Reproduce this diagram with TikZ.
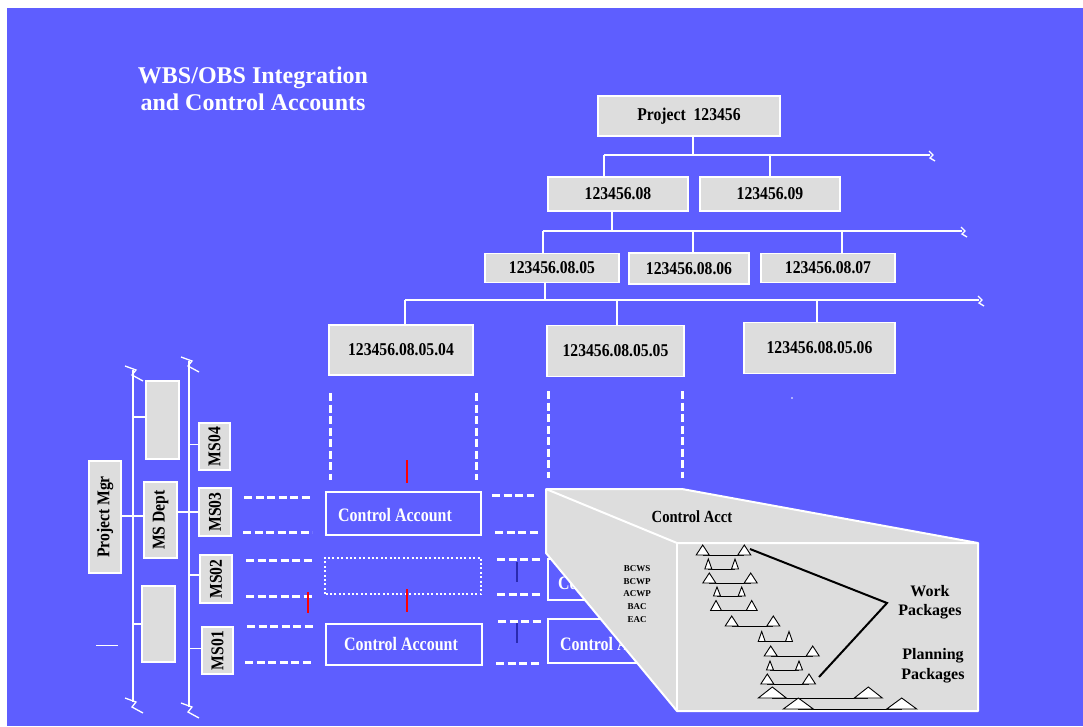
\documentclass[tikz,border=0pt]{standalone}
\usepackage{fontspec}
\setmainfont{Liberation Serif}
\usetikzlibrary{calc}
\definecolor{bg}{HTML}{5E5EFF}
\definecolor{boxgray}{HTML}{DDDDDD}
\definecolor{navy}{HTML}{2A2AB0}
\newcommand{\nar}[1]{\scalebox{0.87}[1]{#1}}
\newcommand{\carr}[1]{\scalebox{0.84}[1]{#1}}
\newcommand{\wrow}[5]{%
  \draw[black, line width=0.9pt] (#1,#3) -- (#2,#3);
  \filldraw[fill=white, draw=black, line width=0.9pt] (#1-#4,#3) -- (#1,#3-#5) -- (#1+#4,#3) -- cycle;
  \filldraw[fill=white, draw=black, line width=0.9pt] (#2-#4,#3) -- (#2,#3-#5) -- (#2+#4,#3) -- cycle;}
\begin{document}
\begin{tikzpicture}[x=1pt,y=-1pt,
  conn/.style={white, line width=1.3pt},
  gbox/.style={draw=white, fill=boxgray, line width=1.5pt, inner sep=0pt,
    font=\bfseries\fontsize{18}{18}\selectfont, text=black},
  cabox/.style={draw=white, line width=1.5pt, inner sep=0pt},
  catext/.style={text=white, font=\bfseries\fontsize{19}{19}\selectfont, inner sep=0pt, anchor=west},
  wdash/.style={white, line width=3pt, dash pattern=on 8pt off 3.5pt},
  wdot/.style={white, line width=2.2pt, dash pattern=on 2pt off 2.4pt},
  redl/.style={red, line width=1.2pt},
  navyl/.style={navy, line width=1.2pt},
  mtx/.style={font=\bfseries\fontsize{9}{9}\selectfont, inner sep=0pt},
  hbrk/.pic={\draw[conn] (-1,-4) -- (3,0) -- (0,3) -- (5,6);},
  vbrk/.pic={\draw[conn] (-8,-4) -- (3,0) -- (-1,5) -- (10,11);}
]
\useasboundingbox (0,0) rectangle (1083,726);
\fill[white] (0,0) rectangle (1083,726);
\fill[bg] (7,8) rectangle (1083,726);

% title
\node[text=white, font=\bfseries\fontsize{24}{27}\selectfont, align=center] (title) at (253,89)
  {WBS/OBS Integration\\and Control Accounts};

% ---------- WBS ----------
\node[gbox, minimum width=182pt, minimum height=40pt] (proj) at (689,116) {\nar{Project~~123456}};
\node[gbox, minimum width=140pt, minimum height=34pt] (w08) at (618,194) {\nar{123456.08}};
\node[gbox, minimum width=140pt, minimum height=34pt] (w09) at (770,194) {\nar{123456.09}};
\node[gbox, minimum width=134pt, minimum height=29pt] (w0805) at (552,268) {\nar{123456.08.05}};
\node[gbox, minimum width=120pt, minimum height=31pt] (w0806) at (689,268.5) {\nar{123456.08.06}};
\node[gbox, minimum width=134pt, minimum height=29pt] (w0807) at (828,268) {\nar{123456.08.07}};
\node[gbox, minimum width=144pt, minimum height=50pt] (w04) at (401,350) {\nar{123456.08.05.04}};
\node[gbox, minimum width=137pt, minimum height=51pt] (w05) at (615.5,351) {\nar{123456.08.05.05}};
\node[gbox, minimum width=151pt, minimum height=51pt] (w06) at (819.5,348) {\nar{123456.08.05.06}};

% bus 1
\coordinate (b1a) at (604,155); \coordinate (b1b) at (930,155);
\coordinate (b1p) at (693,155); \coordinate (b1c) at (770,155);
\draw[conn] (b1a) -- (b1b);
\pic at (b1b) {hbrk};
\draw[conn] (b1p) -- (b1p |- proj.south);
\draw[conn] (b1a) -- (b1a |- w08.north);
\draw[conn] (b1c) -- (b1c |- w09.north);
% bus 2
\coordinate (b2a) at (543,231); \coordinate (b2b) at (962,231);
\coordinate (b2p) at (612,231); \coordinate (b2c) at (693,231); \coordinate (b2d) at (842,231);
\draw[conn] (b2a) -- (b2b);
\pic at (b2b) {hbrk};
\draw[conn] (b2p) -- (b2p |- w08.south);
\draw[conn] (b2a) -- (b2a |- w0805.north);
\draw[conn] (b2c) -- (b2c |- w0806.north);
\draw[conn] (b2d) -- (b2d |- w0807.north);
% bus 3
\coordinate (b3a) at (405,300); \coordinate (b3b) at (979,300);
\coordinate (b3p) at (545,300); \coordinate (b3c) at (617,300); \coordinate (b3d) at (817,300);
\draw[conn] (b3a) -- (b3b);
\pic at (b3b) {hbrk};
\draw[conn] (b3p) -- (b3p |- w0805.south);
\draw[conn] (b3a) -- (b3a |- w04.north);
\draw[conn] (b3c) -- (b3c |- w05.north);
\draw[conn] (b3d) -- (b3d |- w06.north);
\fill[white] (792,398) circle (0.9);

% dashed verticals under WBS level 4
\coordinate (dv1t) at (330,393); \coordinate (dv1b) at (330,480);
\coordinate (dv2t) at (476,393); \coordinate (dv2b) at (476,480);
\coordinate (dv3t) at (548,391); \coordinate (dv3b) at (548,478);
\coordinate (dv4t) at (682,391); \coordinate (dv4b) at (682,478);
\draw[wdash] (dv1t) -- (dv1b);
\draw[wdash] (dv2t) -- (dv2b);
\draw[wdash] (dv3t) -- (dv3b);
\draw[wdash] (dv4t) -- (dv4b);

% ---------- OBS ----------
\coordinate (lbt) at (133,370); \coordinate (lbb) at (133,702);
\coordinate (rbt) at (189,361); \coordinate (rbb) at (189,707);
\draw[conn] (lbt) -- (lbb);
\draw[conn] (rbt) -- (rbb);
\pic at (lbt) {vbrk};
\pic at (lbb) {vbrk};
\pic at (rbt) {vbrk};
\pic at (rbb) {vbrk};

\node[gbox, minimum width=32pt, minimum height=112pt] (pm) at (105,517) {\rotatebox{90}{\nar{Project Mgr}}};
\node[gbox, minimum width=33pt, minimum height=78pt] (blank1) at (162.5,420) {};
\node[gbox, minimum width=33pt, minimum height=76pt] (msd) at (160.5,520) {\rotatebox{90}{\nar{MS Dept}}};
\node[gbox, minimum width=33pt, minimum height=76pt] (blank2) at (158.5,624) {};
\node[gbox, minimum width=31pt, minimum height=47pt] (ms04) at (214.5,446.5) {\rotatebox{90}{\nar{MS04}}};
\node[gbox, minimum width=32pt, minimum height=48pt] (ms03) at (215,512) {\rotatebox{90}{\nar{MS03}}};
\node[gbox, minimum width=32pt, minimum height=48pt] (ms02) at (216,579) {\rotatebox{90}{\nar{MS02}}};
\node[gbox, minimum width=31pt, minimum height=47pt] (ms01) at (217.5,650.5) {\rotatebox{90}{\nar{MS01}}};

\draw[conn] ([yshift=1pt]pm.east) -- ([yshift=1pt]pm.east -| msd.west);
\draw[conn] ([yshift=3pt]blank1.west) -- ([yshift=3pt]blank1.west -| lbt);
\draw[conn] (blank2.west) -- (blank2.west -| lbt);
\draw[conn] (ms03.west) -- (ms03.west -| msd.east);
\draw[conn] ([yshift=2pt]ms04.west) -- ([yshift=2pt]ms04.west -| rbt);
\draw[conn] ([yshift=4pt]ms02.west) -- ([yshift=4pt]ms02.west -| rbt);
\draw[conn] ([yshift=2pt]ms01.west) -- ([yshift=2pt]ms01.west -| rbt);
\coordinate (sl1) at (96,645); \coordinate (sl2) at (118,645);
\draw[white, line width=1pt] (sl1) -- (sl2);

% ---------- control accounts ----------
\coordinate (h1a) at (244,497); \coordinate (h1b) at (312,497);
\coordinate (h2a) at (243,532); \coordinate (h2b) at (312,532);
\coordinate (h3a) at (492,495); \coordinate (h3b) at (534,495);
\coordinate (h4a) at (495,532); \coordinate (h4b) at (538,532);
\coordinate (h5a) at (246,560); \coordinate (h5b) at (314,560);
\coordinate (h6a) at (246,596); \coordinate (h6b) at (314,596);
\coordinate (h7a) at (497,559); \coordinate (h7b) at (540,559);
\coordinate (h8a) at (497,594); \coordinate (h8b) at (540,594);
\coordinate (h9a) at (247,626); \coordinate (h9b) at (315,626);
\coordinate (h10a) at (245,662); \coordinate (h10b) at (313,662);
\coordinate (h11a) at (498,621); \coordinate (h11b) at (541,621);
\coordinate (h12a) at (496,663); \coordinate (h12b) at (540,663);
\foreach \i in {1,...,12} {\draw[wdash] (h\i a) -- (h\i b);}

\node[cabox, minimum width=155pt, minimum height=43pt] (ca1) at (403.5,513.5) {};
\node[catext] (ca1t) at (338,515) {\carr{Control Account}};
\node[draw=none, minimum width=156pt, minimum height=36pt, inner sep=0pt] (cadot) at (403,576) {};
\draw[wdot] (cadot.south west) rectangle (cadot.north east);
\node[cabox, minimum width=156pt, minimum height=41pt] (ca2) at (404,644.5) {};
\node[catext] (ca2t) at (344,644) {\carr{Control Account}};
\node[cabox, minimum width=152pt, minimum height=41pt] (ca3) at (624,579.5) {};
\node[catext] (ca3t) at (558,583) {\carr{Control Account}};
\node[cabox, minimum width=152pt, minimum height=44pt] (ca4) at (624,641) {};
\node[catext] (ca4t) at (560,644) {\carr{Control Account}};

% red and navy ticks
\coordinate (r1a) at (407,460); \coordinate (r1b) at (407,483);
\coordinate (r2a) at (308,592); \coordinate (r2b) at (308,613);
\coordinate (r3a) at (407,589); \coordinate (r3b) at (407,612);
\draw[redl] (r1a) -- (r1b);
\draw[redl] (r2a) -- (r2b);
\draw[redl] (r3a) -- (r3b);
\coordinate (n1a) at (517,562); \coordinate (n1b) at (517,582);
\coordinate (n2a) at (517,623); \coordinate (n2b) at (517,643);
\draw[navyl] (n1a) -- (n1b);
\draw[navyl] (n2a) -- (n2b);

% ---------- 3D control account box ----------
\coordinate (c1) at (546,489); \coordinate (c2) at (682,489);
\coordinate (c3) at (978,543); \coordinate (c4) at (978,711);
\coordinate (c5) at (677,711); \coordinate (c6) at (546,553);
\coordinate (c7) at (677,543);
\filldraw[fill=boxgray, draw=white, line width=2pt, line join=round]
  (c1) -- (c2) -- (c3) -- (c4) -- (c5) -- (c6) -- cycle;
\draw[white, line width=2pt] (c1) -- (c7) -- (c3);
\draw[white, line width=2pt] (c7) -- (c5);

\node[font=\bfseries\fontsize{17}{17}\selectfont, inner sep=0pt] (cacct) at (692,517) {\scalebox{0.86}[1]{Control Acct}};
\node[mtx] (m1) at (637,569) {BCWS};
\node[mtx] (m2) at (637,581.5) {BCWP};
\node[mtx] (m3) at (637,594) {ACWP};
\node[mtx] (m4) at (637,607) {BAC};
\node[mtx] (m5) at (637,620) {EAC};
\node[font=\bfseries\fontsize{16}{19}\selectfont, align=center, inner sep=0pt] (wp) at (930,602)
  {Work\\Packages};
\node[font=\bfseries\fontsize{16}{20}\selectfont, align=center, inner sep=0pt] (pp) at (933,666)
  {Planning\\Packages};

\wrow{702.7}{744.3}{555}{6.5}{10}
\wrow{708.3}{735}{569}{3.5}{10}
\wrow{709.3}{750.7}{583}{6.5}{10}
\wrow{717}{741.7}{596}{3.5}{9}
\wrow{716}{751.7}{610.5}{5.5}{10}
\wrow{731.7}{773.3}{626}{6.5}{10}
\wrow{761.7}{789}{641.5}{3.5}{10}
\wrow{770.7}{812.7}{656}{6.5}{10}
\wrow{770}{799}{670}{3.5}{9}
\wrow{767.3}{809}{684}{6.5}{10}
\wrow{772.3}{868.3}{698}{14}{11}
\wrow{798.3}{901.7}{709}{15}{11}

\coordinate (p1) at (750,549); \coordinate (p2) at (887,603); \coordinate (p3) at (819,677);
\draw[black, line width=2pt] (p1) -- (p2) -- (p3);
\end{tikzpicture}
\end{document}
